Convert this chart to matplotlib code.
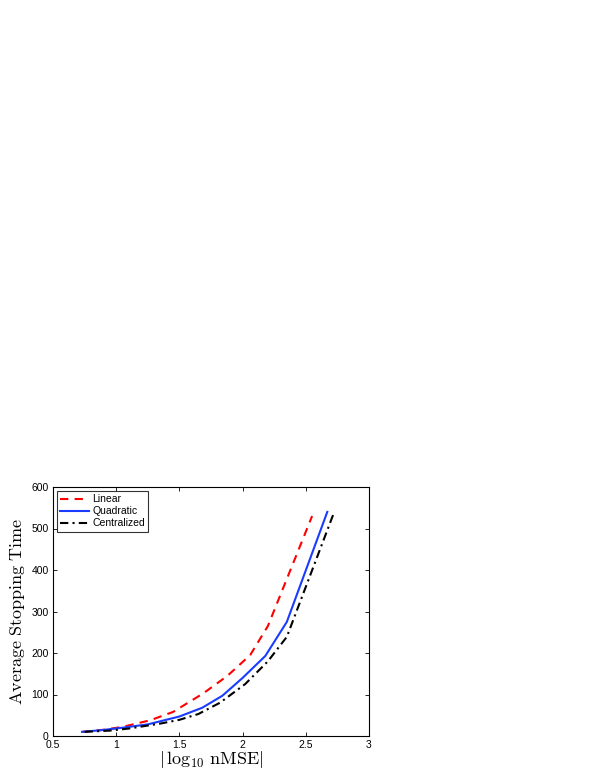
import matplotlib
matplotlib.use("Agg")
import matplotlib.pyplot as plt

# Data
linear_x = [0.73, 0.90, 1.05, 1.27, 1.45, 1.69, 1.88, 2.06, 2.20, 2.41, 2.55]
linear_y = [10, 15, 22, 38, 58, 103, 145, 195, 265, 424, 530]

quad_x = [0.73, 0.88, 1.05, 1.25, 1.50, 1.68, 1.84, 2.00, 2.18, 2.35, 2.67]
quad_y = [10, 14, 20, 28, 47, 68, 97, 140, 193, 275, 540]

cent_x = [0.75, 0.95, 1.10, 1.35, 1.50, 1.65, 1.82, 2.02, 2.20, 2.35, 2.72]
cent_y = [10, 13, 18, 30, 39, 53, 80, 125, 180, 239, 536]

xticks = [0.5, 1, 1.5, 2, 2.5, 3]
yticks = [0, 100, 200, 300, 400, 500, 600]

plt.rcParams['mathtext.fontset'] = 'cm'
plt.rcParams['font.family'] = ['Liberation Sans', 'DejaVu Sans']

fig = plt.figure(figsize=(5.95, 7.7), dpi=100)
ax = fig.add_axes([53/595, 1-736/770, (369-53)/595, (736-487)/770])

ax.plot(linear_x, linear_y, color='#ff0000', ls=(0, (4, 3)), lw=1.5, label='Linear')
ax.plot(quad_x, quad_y, color='#1a3cff', ls='-', lw=1.5, label='Quadratic')
ax.plot(cent_x, cent_y, color='black', ls=(0, (4, 2, 1, 2)), lw=1.5, label='Centralized')

ax.set_xlim(0.5, 3)
ax.set_ylim(0, 600)
ax.set_xticks(xticks)
ax.set_xticklabels(['0.5', '1', '1.5', '2', '2.5', '3'])
ax.set_yticks(yticks)
ax.tick_params(direction='in', top=True, right=True, labelsize=7.5, length=3, width=0.6)
ax.tick_params(axis='x', pad=3)
ax.tick_params(axis='y', pad=3)
for s in ax.spines.values():
    s.set_linewidth(0.8)

ax.set_xlabel(r'$|\,\log_{10}\,\mathrm{nMSE}|$', fontsize=13, labelpad=-1)
ax.set_ylabel(r'$\mathrm{Average\ Stopping\ Time}$', fontsize=13, labelpad=3)

leg = ax.legend(loc='upper left', fontsize=7.5, frameon=True, fancybox=False,
                edgecolor='black', handlelength=2.8, borderpad=0.3,
                labelspacing=0.2, handletextpad=0.3, borderaxespad=0.4)
leg.get_frame().set_linewidth(0.8)

fig.savefig('out.png', dpi=100)
